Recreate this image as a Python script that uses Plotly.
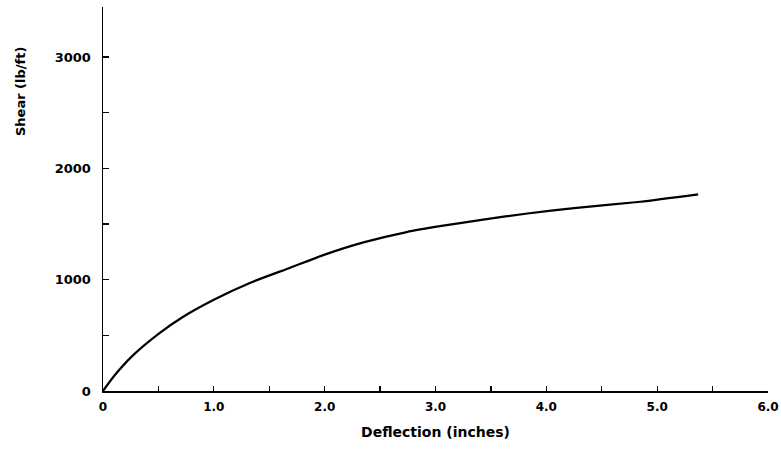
import plotly.graph_objects as go

deflection = [0, 0.1, 0.27, 0.51, 0.72, 1.0, 1.33, 1.69, 2.0, 2.35, 2.74, 3.07, 3.43, 3.83, 4.25, 4.85, 5.37]
shear = [0, 135, 320, 520, 665, 820, 973, 1108, 1225, 1335, 1428, 1485, 1540, 1595, 1643, 1700, 1766]

x_tickvals = [0, 0.5, 1.0, 1.5, 2.0, 2.5, 3.0, 3.5, 4.0, 4.5, 5.0, 5.5, 6.0]
x_ticktext = ["0", "", "1.0", "", "2.0", "", "3.0", "", "4.0", "", "5.0", "", "6.0"]
y_tickvals = [0, 500, 1000, 1500, 2000, 2500, 3000]
y_ticktext = ["0", "", "1000", "", "2000", "", "3000"]

FAM = "DejaVu Sans"

fig = go.Figure()
fig.add_trace(go.Scatter(
    x=deflection, y=shear, mode="lines",
    line=dict(color="black", width=2.2, shape="spline", smoothing=0.6),
    showlegend=False, hoverinfo="skip",
))

fig.update_layout(
    width=781, height=458,
    margin=dict(l=103, r=13, t=7, b=67),
    paper_bgcolor="white", plot_bgcolor="white",
    font=dict(family=FAM, size=13, color="black", weight="bold"),
    xaxis=dict(
        range=[0, 6], tickvals=x_tickvals, ticktext=x_ticktext,
        ticks="inside", ticklen=5, tickwidth=1.2, tickcolor="black",
        showline=True, linecolor="black", linewidth=2,
        showgrid=False, zeroline=False, ticklabelstandoff=4,
        automargin=False,
        tickfont=dict(family=FAM, size=12, weight="bold"),
        title=dict(text="Deflection (inches)", font=dict(family=FAM, size=14, weight="bold"), standoff=14),
    ),
    yaxis=dict(
        range=[0, 3450], tickvals=y_tickvals, ticktext=y_ticktext,
        ticks="inside", ticklen=6, tickwidth=1.5, tickcolor="black",
        showline=True, linecolor="black", linewidth=1.5,
        showgrid=False, zeroline=False, ticklabelstandoff=8,
        automargin=False,
        tickfont=dict(family=FAM, size=13, weight="bold"),
    ),
    annotations=[dict(
        text="Shear (lb/ft)", textangle=-90,
        xref="paper", yref="y", x=-0.125, y=2694,
        xanchor="center", yanchor="middle", showarrow=False,
        font=dict(family=FAM, size=13, weight="bold"),
    )],
)

fig.write_html(
    "out.html",
    config={"displayModeBar": False, "staticPlot": True},
    post_script="document.body.style.margin='0';document.body.style.overflow='hidden';",
)
